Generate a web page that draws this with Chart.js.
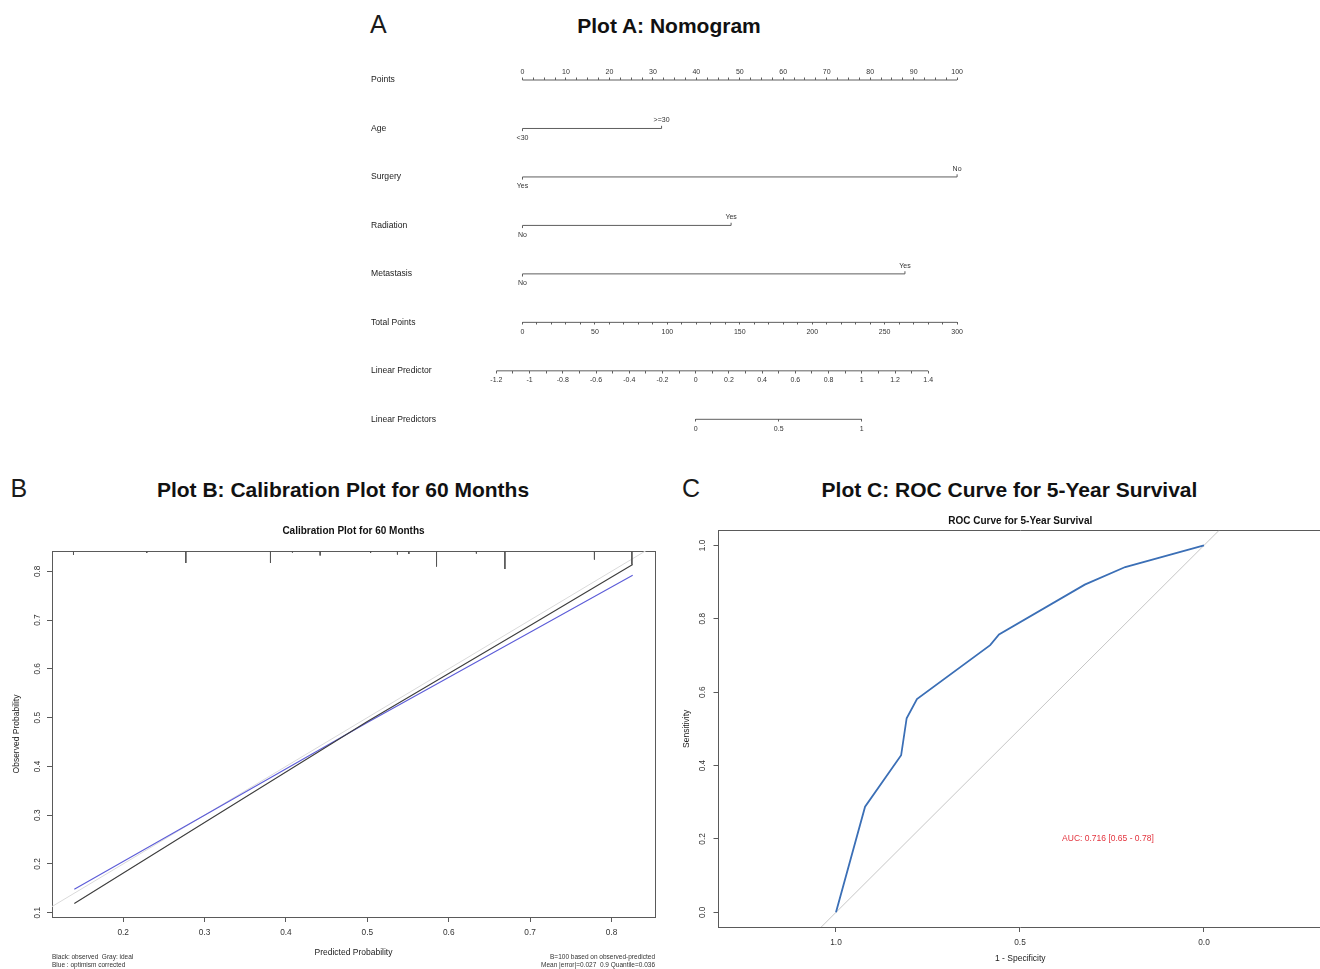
<!DOCTYPE html>
<html><head><meta charset="utf-8">
<script src="https://cdn.jsdelivr.net/npm/chart.js@4.4.1/dist/chart.umd.min.js"></script>
<style>
html,body{margin:0;padding:0;background:#fff;}
body{width:1320px;height:969px;overflow:hidden;position:relative;font-family:"Liberation Sans",Arial,Helvetica,sans-serif;}
.abs{position:absolute;white-space:nowrap;margin:0;}
.letter{font-size:25px;line-height:25px;color:#1a1a1a;}
.ptitle{font-size:21px;line-height:21px;font-weight:bold;color:#111;transform:translateX(-50%);}
.note{font-size:6.5px;line-height:8px;color:#333;}
canvas{position:absolute;display:block;}
</style></head><body>
<div class="abs letter" style="left:370px;top:11.6px">A</div>
<div class="abs ptitle" style="left:669px;top:15px">Plot A: Nomogram</div>
<div class="abs letter" style="left:10.5px;top:476px">B</div>
<div class="abs ptitle" style="left:343px;top:479px">Plot B: Calibration Plot for 60 Months</div>
<div class="abs letter" style="left:682px;top:476px">C</div>
<div class="abs ptitle" style="left:1009.5px;top:479px">Plot C: ROC Curve for 5-Year Survival</div>
<canvas id="nomo" width="620" height="400" style="left:360px;top:50px"></canvas>
<canvas id="cal" width="670" height="469" style="left:0px;top:500px"></canvas>
<canvas id="roc" width="652" height="469" style="left:670px;top:500px"></canvas>
<div class="abs note" style="left:52px;top:952.5px">Black: observed&nbsp; Gray: ideal<br>Blue : optimism corrected</div>
<div class="abs note" style="right:665px;top:952.5px;text-align:right">B=100 based on observed-predicted<br>Mean |error|=0.027&nbsp; 0.9 Quantile=0.036</div>
<script>
Chart.defaults.font.family = '"Liberation Sans", Arial, Helvetica, sans-serif';
Chart.defaults.color = '#333';

// ---------------- Nomogram data ----------------
const rowNames = ['Points', 'Age', 'Surgery', 'Radiation', 'Metastasis', 'Total Points', 'Linear Predictor', 'Linear Predictors'];
const ageLevels = ['<30', '>=30'];
const agePoints = [0, 32];
const surgeryLevels = ['Yes', 'No'];
const surgeryPoints = [0, 100];
const radiationLevels = ['No', 'Yes'];
const radiationPoints = [0, 48];
const metastasisLevels = ['No', 'Yes'];
const metastasisPoints = [0, 88];
const pointsLabels = [0, 10, 20, 30, 40, 50, 60, 70, 80, 90, 100];
const totalPointsLabels = [0, 50, 100, 150, 200, 250, 300];
const lpLabels = [-1.2, -1, -0.8, -0.6, -0.4, -0.2, 0, 0.2, 0.4, 0.6, 0.8, 1, 1.2, 1.4];
const lpsLabels = [0, 0.5, 1];

// ---------------- Calibration data ----------------
const calPred = [0.140, 0.300, 0.500, 0.700, 0.826];
const calObserved = [0.119, 0.285, 0.492, 0.689, 0.814];
const calCorrected = [0.148, 0.300, 0.490, 0.675, 0.792];
const rugPred = [0.139, 0.229, 0.277, 0.381, 0.408, 0.442, 0.504, 0.537, 0.551, 0.585, 0.634, 0.669, 0.779, 0.825];
const rugFreq = [4, 2, 12, 12, 1.5, 4.5, 2, 3.5, 3, 15.5, 2.5, 18, 8.5, 13.5];
const calXTicks = [0.2, 0.3, 0.4, 0.5, 0.6, 0.7, 0.8];
const calYTicks = [0.1, 0.2, 0.3, 0.4, 0.5, 0.6, 0.7, 0.8];

// ---------------- ROC data ----------------
const rocSpecificity = [1.000, 0.921, 0.823, 0.808, 0.780, 0.581, 0.557, 0.324, 0.214, 0.000];
const rocSensitivity = [0.000, 0.288, 0.428, 0.529, 0.581, 0.728, 0.757, 0.893, 0.941, 1.000];
const aucValue = 0.716, aucLow = 0.65, aucHigh = 0.78;
const rocXTicks = [1, 0.5, 0];
const rocYTicks = [0, 0.2, 0.4, 0.6, 0.8, 1];

// ---------------- helpers ----------------
const PTS_MIN = -9.779, PTS_MAX = 105.27;
const TOTAL_PER_POINT = 3;
const LP_ZERO_POINTS = 39.85, POINTS_PER_LP = 38.22;
const lpFromPoints = p => (p - LP_ZERO_POINTS) / POINTS_PER_LP;
const LINE = '#5e5e5e';
const TICK_ROWS = 0.055;

function withMinor(labels, step) {
  const a = labels[0], b = labels[labels.length - 1];
  const n = Math.round((b - a) / step), out = [];
  for (let i = 0; i <= n; i++) out.push(+(a + i * step).toFixed(6));
  return out;
}
const isLabel = (labels, v) => labels.some(l => Math.abs(l - v) < 1e-6);
const fmt = v => String(+(+v).toFixed(2));

function axisLine(xAxisID, row, from, to) {
  return {xAxisID, yAxisID: 'y', data: [{x: from, y: row}, {x: to, y: row}],
    borderColor: LINE, borderWidth: 1, pointRadius: 0, clip: false, tension: 0};
}
function varLine(row, pts) {
  const a = pts[0], b = pts[pts.length - 1];
  return {xAxisID: 'xPts', yAxisID: 'y',
    data: [{x: a, y: row + TICK_ROWS}, {x: a, y: row}, {x: b, y: row}, {x: b, y: row - TICK_ROWS}],
    borderColor: LINE, borderWidth: 1, pointRadius: 0, clip: false, tension: 0};
}
function nomoAxis(extra, labels, step, pad, tl) {
  return Object.assign({
    type: 'linear', axis: 'x', bounds: 'data',
    border: {display: false},
    grid: {display: true, drawOnChartArea: false, drawTicks: true, tickLength: tl, color: LINE, lineWidth: 1},
    afterBuildTicks: s => { s.ticks = withMinor(labels, step).map(v => ({value: v})); },
    ticks: {autoSkip: false, maxRotation: 0, minRotation: 0, font: {size: 7}, color: '#333', padding: pad,
      callback: v => isLabel(labels, v) ? fmt(v) : ''}
  }, extra);
}

const variables = [
  {row: 1, levels: ageLevels, pts: agePoints},
  {row: 2, levels: surgeryLevels, pts: surgeryPoints},
  {row: 3, levels: radiationLevels, pts: radiationPoints},
  {row: 4, levels: metastasisLevels, pts: metastasisPoints}
];

const levelLabels = {
  id: 'levelLabels',
  afterDatasetsDraw(chart) {
    const {ctx} = chart, xs = chart.scales.xPts, ys = chart.scales.y;
    ctx.save();
    ctx.font = '7px "Liberation Sans", Arial, sans-serif';
    ctx.fillStyle = '#333'; ctx.textAlign = 'center'; ctx.textBaseline = 'middle';
    variables.forEach(v => {
      v.levels.forEach((lab, k) => {
        const px = xs.getPixelForValue(v.pts[k]);
        const py = ys.getPixelForValue(v.row) + (k % 2 === 0 ? 9.3 : -8.3);
        ctx.fillText(lab, px, py);
      });
    });
    ctx.restore();
  }
};

const commonOpts = {responsive: false, animation: false, events: [],
  plugins: {legend: {display: false}, tooltip: {enabled: false}, title: {display: false}}};

// ---------------- Nomogram chart ----------------
new Chart(document.getElementById('nomo'), {
  type: 'line',
  data: {datasets: [
    axisLine('xPts', 0, pointsLabels[0], pointsLabels[pointsLabels.length - 1]),
    ...variables.map(v => varLine(v.row, v.pts)),
    axisLine('xTot', 5, totalPointsLabels[0], totalPointsLabels[totalPointsLabels.length - 1]),
    axisLine('xLP', 6, lpLabels[0], lpLabels[lpLabels.length - 1]),
    axisLine('xLP', 7, lpsLabels[0], lpsLabels[lpsLabels.length - 1])
  ]},
  options: Object.assign({}, commonOpts, {
    layout: {padding: {left: 11, top: 14, right: 0, bottom: 30.7}},
    scales: {
      xPts: nomoAxis({position: 'top', min: PTS_MIN, max: PTS_MAX, afterFit: s => { s.height = 16; }}, pointsLabels, 2.5, 1.6, 2.5),
      xTot: nomoAxis({position: {y: 5}, min: PTS_MIN * TOTAL_PER_POINT, max: PTS_MAX * TOTAL_PER_POINT, afterFit: s => { s.height = 0; }}, totalPointsLabels, 10, 2.6, 2.5),
      xLP: nomoAxis({position: {y: 6}, min: lpFromPoints(PTS_MIN), max: lpFromPoints(PTS_MAX), afterFit: s => { s.height = 0; }}, lpLabels, 0.1, 2.6, 2.5),
      xLPs: nomoAxis({position: {y: 7}, min: lpFromPoints(PTS_MIN), max: lpFromPoints(PTS_MAX), afterFit: s => { s.height = 0; }}, lpsLabels, 0.5, 2.9, 2.5),
      y: {type: 'linear', display: false, min: 0, max: 7, reverse: true},
      yLab: {type: 'category', position: 'left', labels: rowNames, offset: false,
        afterFit: s => { s.width = 109; },
        grid: {display: false}, border: {display: false},
        ticks: {crossAlign: 'far', padding: 0, font: {size: 8.6}, color: '#222', autoSkip: false}}
    }
  }),
  plugins: [levelLabels]
});

// ---------------- Calibration chart ----------------
const CAL_X = [0.1126, 0.8534], CAL_Y = [0.0912, 0.8416];
const RUG_UNIT = 0.00205;
const rugData = [];
rugPred.forEach((p, i) => {
  rugData.push({x: p, y: CAL_Y[1]}, {x: p, y: CAL_Y[1] - rugFreq[i] * RUG_UNIT}, {x: p, y: null});
});
const frameColor = '#5a5a5a';
new Chart(document.getElementById('cal'), {
  type: 'line',
  data: {datasets: [
    {label: 'rug', data: rugData, borderColor: '#555', borderWidth: 1, pointRadius: 0, spanGaps: false, tension: 0},
    {label: 'Observed', data: calPred.map((p, i) => ({x: p, y: calObserved[i]})), borderColor: '#3c3c3c', borderWidth: 1.1, pointRadius: 0, tension: 0},
    {label: 'Optimism corrected', data: calPred.map((p, i) => ({x: p, y: calCorrected[i]})), borderColor: '#5c5cd8', borderWidth: 1.1, pointRadius: 0, tension: 0},
    {label: 'Ideal', data: [{x: 0, y: 0}, {x: 1, y: 1}], borderColor: '#dadada', borderWidth: 1, pointRadius: 0, tension: 0}
  ]},
  options: Object.assign({}, commonOpts, {
    layout: {padding: {left: 0, top: 0, right: 15, bottom: 0}},
    scales: {
      x: {type: 'linear', position: 'bottom', min: CAL_X[0], max: CAL_X[1], bounds: 'data',
        afterFit: s => { s.height = 52; },
        afterBuildTicks: s => { s.ticks = calXTicks.map(v => ({value: v})); },
        grid: {drawOnChartArea: false, tickLength: 5, color: frameColor},
        border: {color: frameColor, width: 1},
        ticks: {autoSkip: false, maxRotation: 0, padding: 6, font: {size: 8.3}, color: '#333', callback: v => (+v).toFixed(1)},
        title: {display: true, text: 'Predicted Probability', font: {size: 8.5}, color: '#222', padding: {top: 0, bottom: 10.9}}},
      x2: {type: 'linear', position: 'top', min: CAL_X[0], max: CAL_X[1],
        afterFit: s => { s.height = 51; },
        grid: {display: true, drawOnChartArea: false, drawTicks: false},
        border: {color: frameColor, width: 1},
        ticks: {display: false},
        title: {display: true, text: 'Calibration Plot for 60 Months', font: {size: 10, weight: 'bold'}, color: '#111', padding: {top: 25.5, bottom: 0}}},
      y: {type: 'linear', position: 'left', min: CAL_Y[0], max: CAL_Y[1], bounds: 'data',
        afterFit: s => { s.width = 52; },
        afterBuildTicks: s => { s.ticks = calYTicks.map(v => ({value: v})); },
        grid: {drawOnChartArea: false, tickLength: 5, color: frameColor},
        border: {color: frameColor, width: 1},
        ticks: {autoSkip: false, minRotation: 90, maxRotation: 90, crossAlign: 'center', padding: 3.5, font: {size: 8.3}, color: '#333', callback: v => (+v).toFixed(1)},
        title: {display: true, text: 'Observed Probability', font: {size: 8.5}, color: '#222', padding: {top: 12, bottom: 0}}},
      y2: {type: 'linear', position: 'right', min: CAL_Y[0], max: CAL_Y[1],
        afterFit: s => { s.width = 0; },
        grid: {display: true, drawOnChartArea: false, drawTicks: false},
        border: {color: frameColor, width: 1},
        ticks: {display: false}}
    }
  })
});

// ---------------- ROC chart ----------------
const ROC_X = [-0.3207, 1.3193], ROC_Y = [-0.04, 1.04];
const AUC_POS = [0.261, 0.2];
const aucLabel = {
  id: 'aucLabel',
  afterDatasetsDraw(chart) {
    const {ctx} = chart, xs = chart.scales.x, ys = chart.scales.y;
    ctx.save();
    ctx.font = '8.5px "Liberation Sans", Arial, sans-serif';
    ctx.fillStyle = '#e3333d'; ctx.textAlign = 'center'; ctx.textBaseline = 'middle';
    ctx.fillText('AUC: ' + aucValue.toFixed(3) + ' [' + aucLow.toFixed(2) + ' - ' + aucHigh.toFixed(2) + ']',
      xs.getPixelForValue(AUC_POS[0]), ys.getPixelForValue(AUC_POS[1]));
    ctx.restore();
  }
};
new Chart(document.getElementById('roc'), {
  type: 'line',
  data: {datasets: [
    {label: 'ROC', data: rocSpecificity.map((s, i) => ({x: s, y: rocSensitivity[i]})), borderColor: '#3b6fb6', borderWidth: 1.8, pointRadius: 0, tension: 0},
    {label: 'Chance', data: [{x: 1.2, y: -0.2}, {x: -0.2, y: 1.2}], borderColor: '#c6c6c6', borderWidth: 1, pointRadius: 0, tension: 0}
  ]},
  options: Object.assign({}, commonOpts, {
    layout: {padding: 0},
    scales: {
      x: {type: 'linear', position: 'bottom', reverse: true, min: ROC_X[0], max: ROC_X[1], bounds: 'data',
        afterFit: s => { s.height = 42; },
        afterBuildTicks: s => { s.ticks = rocXTicks.map(v => ({value: v})); },
        grid: {drawOnChartArea: false, tickLength: 5, color: frameColor},
        border: {color: frameColor, width: 1},
        ticks: {autoSkip: false, maxRotation: 0, padding: 6, font: {size: 8.3}, color: '#333', callback: v => (+v).toFixed(1)},
        title: {display: true, text: '1 - Specificity', font: {size: 8.5}, color: '#222', padding: {top: 0, bottom: 4.9}}},
      x2: {type: 'linear', position: 'top', reverse: true, min: ROC_X[0], max: ROC_X[1],
        afterFit: s => { s.height = 30.7; },
        grid: {display: true, drawOnChartArea: false, drawTicks: false},
        border: {color: frameColor, width: 1},
        ticks: {display: false},
        title: {display: true, text: 'ROC Curve for 5-Year Survival', font: {size: 10, weight: 'bold'}, color: '#111', padding: {top: 15, bottom: 0}}},
      y: {type: 'linear', position: 'left', min: ROC_Y[0], max: ROC_Y[1], bounds: 'data',
        afterFit: s => { s.width = 48.5; },
        afterBuildTicks: s => { s.ticks = rocYTicks.map(v => ({value: v})); },
        grid: {drawOnChartArea: false, tickLength: 5, color: frameColor},
        border: {color: frameColor, width: 1},
        ticks: {autoSkip: false, minRotation: 90, maxRotation: 90, crossAlign: 'center', padding: 4.9, font: {size: 8.3}, color: '#333', callback: v => (+v).toFixed(1)},
        title: {display: true, text: 'Sensitivity', font: {size: 8.5}, color: '#222', padding: {top: 12, bottom: 0}}}
    }
  }),
  plugins: [aucLabel]
});
</script>
</body></html>
